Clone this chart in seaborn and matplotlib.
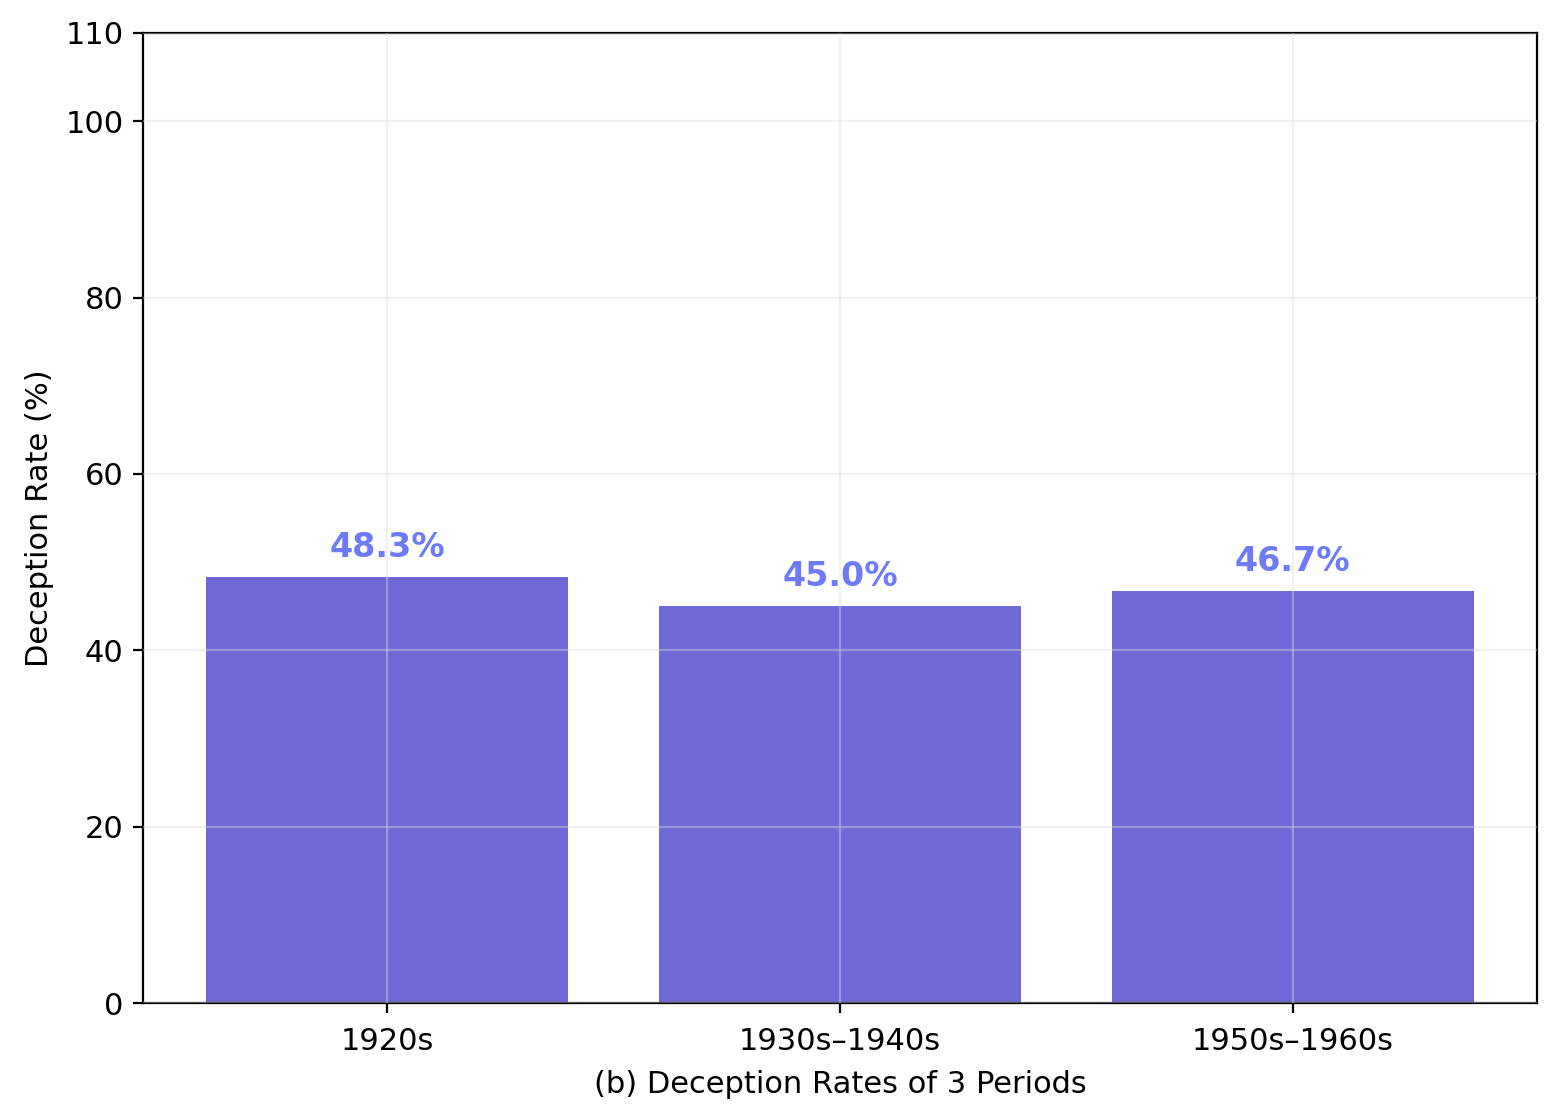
import matplotlib
matplotlib.use("Agg")
import matplotlib.pyplot as plt
import seaborn as sns
import pandas as pd

periods = ["1920s", "1930s–1940s", "1950s–1960s"]
rates = [48.3, 45.0, 46.7]
yticks = [0, 20, 40, 60, 80, 100, 110]

sns.set_style("white")
plt.rcParams['font.family'] = ['DejaVu Sans']
plt.rcParams['text.color'] = 'black'
plt.rcParams['axes.labelcolor'] = 'black'
plt.rcParams['xtick.color'] = 'black'
plt.rcParams['ytick.color'] = 'black'

df = pd.DataFrame({"period": periods, "rate": rates})
fig = plt.figure(figsize=(7.8, 5.585), dpi=200)
ax = fig.add_axes([0.0917, 0.102, 0.8936, 0.8685])
sns.barplot(data=df, x="period", y="rate", color="#6f68d6", saturation=1,
            width=0.8, linewidth=0, ax=ax, zorder=2)
for i, v in enumerate(rates):
    ax.text(i, v + 1.45, f"{v:.1f}%", ha="center", va="bottom",
            fontsize=12, fontweight="bold", color="#6f7af7", zorder=4)
ax.set_xlim(-0.54, 2.54)
ax.set_ylim(0, 110)
ax.set_yticks(yticks)
ax.grid(True, color="#e0e0e0", alpha=0.4, linewidth=0.8, zorder=3)
ax.set_axisbelow(False)
for s in ax.spines.values():
    s.set_visible(True)
    s.set_color("black")
    s.set_linewidth(0.8)
ax.tick_params(axis="both", which="both", length=3.5, width=0.8, labelsize=11,
               bottom=True, left=True, color="black", labelcolor="black")
ax.tick_params(axis="x", pad=5)
ax.set_xlabel("(b) Deception Rates of 3 Periods", fontsize=11, labelpad=5)
ax.set_ylabel("Deception Rate (%)", fontsize=11)
fig.savefig("out.png", dpi=200)
